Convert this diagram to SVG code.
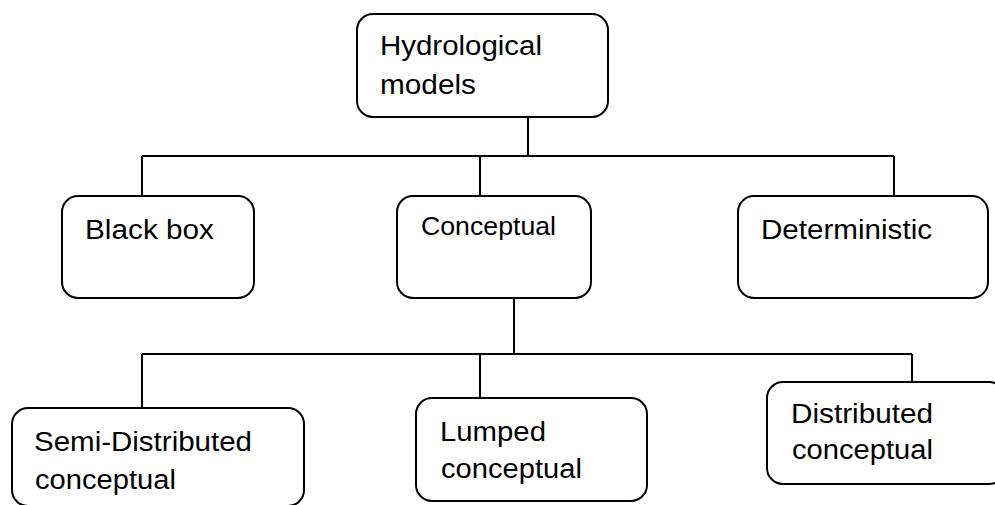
<svg xmlns="http://www.w3.org/2000/svg" width="995" height="505" viewBox="0 0 995 505">
<style>
.box{fill:#fff;stroke:#000;stroke-width:2}
.c{stroke:#000;stroke-width:2;fill:none}
text{font-family:"Liberation Sans",Arial,sans-serif;font-size:27px;fill:#000}
</style>
<rect width="995" height="505" fill="#fff"/>
<g id="connectors">
<path class="c" d="M528 117V156M142 156H894M142 156V196M480 156V196M894 156V196"/>
<path class="c" d="M514 298V354M142 354H912M142 354V408M480 354V398M912 354V382"/>
</g>
<g id="hydrological">
<rect class="box" x="357" y="14" width="251" height="103" rx="16"/>
<text x="380" y="55" textLength="162" lengthAdjust="spacingAndGlyphs">Hydrological</text>
<text x="380" y="94" textLength="96" lengthAdjust="spacingAndGlyphs">models</text>
</g>
<g id="blackbox">
<rect class="box" x="62" y="196" width="192" height="102" rx="16"/>
<text x="85" y="239" textLength="129" lengthAdjust="spacingAndGlyphs">Black box</text>
</g>
<g id="conceptual">
<rect class="box" x="397" y="196" width="194" height="102" rx="16"/>
<text x="421" y="235" style="font-size:26px" textLength="135" lengthAdjust="spacingAndGlyphs">Conceptual</text>
</g>
<g id="deterministic">
<rect class="box" x="738" y="196" width="250" height="102" rx="16"/>
<text x="761" y="239" textLength="171" lengthAdjust="spacingAndGlyphs">Deterministic</text>
</g>
<g id="semidistributed">
<rect class="box" x="12" y="408" width="292" height="98" rx="16"/>
<text x="34" y="451" textLength="218" lengthAdjust="spacingAndGlyphs">Semi-Distributed</text>
<text x="35" y="489" textLength="141" lengthAdjust="spacingAndGlyphs">conceptual</text>
</g>
<g id="lumped">
<rect class="box" x="416" y="398" width="231" height="103" rx="16"/>
<text x="440" y="441" textLength="106" lengthAdjust="spacingAndGlyphs">Lumped</text>
<text x="441" y="478" textLength="141" lengthAdjust="spacingAndGlyphs">conceptual</text>
</g>
<g id="distributed">
<rect class="box" x="767" y="382" width="238" height="102" rx="16"/>
<text x="791" y="423" textLength="142" lengthAdjust="spacingAndGlyphs">Distributed</text>
<text x="792" y="459" textLength="141" lengthAdjust="spacingAndGlyphs">conceptual</text>
</g>
</svg>
